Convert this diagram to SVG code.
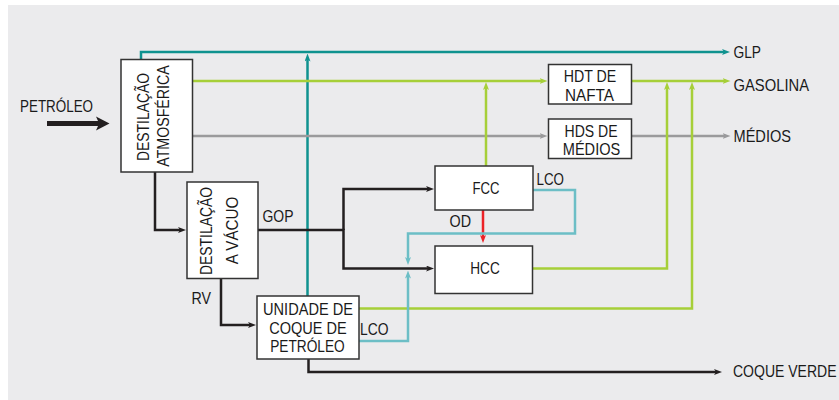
<svg xmlns="http://www.w3.org/2000/svg" width="839" height="400" viewBox="0 0 839 400">
<style>
.t{font-family:"Liberation Sans",Arial,sans-serif;font-size:16.5px;fill:#1a1a1a}
.m{text-anchor:middle}
.box{fill:#ffffff;stroke:#333333;stroke-width:1.5}
.ln{fill:none;stroke-width:2.5;stroke-linejoin:miter}
.teal{stroke:#0f928f}
.green{stroke:#a6cf39}
.gray{stroke:#9a9a9c}
.black{stroke:#231f20}
.cyan{stroke:#6cbec6}
.red{stroke:#ec2227}
</style>
<defs>
<marker id="aTeal" markerUnits="userSpaceOnUse" markerWidth="8" markerHeight="6" refX="3" refY="3" orient="auto"><path d="M0,0 L8,3 L0,6 L2,3 z" fill="#0f928f"/></marker>
<marker id="aGreen" markerUnits="userSpaceOnUse" markerWidth="8" markerHeight="6" refX="3" refY="3" orient="auto"><path d="M0,0 L8,3 L0,6 L2,3 z" fill="#a6cf39"/></marker>
<marker id="aGray" markerUnits="userSpaceOnUse" markerWidth="8" markerHeight="6" refX="3" refY="3" orient="auto"><path d="M0,0 L8,3 L0,6 L2,3 z" fill="#9a9a9c"/></marker>
<marker id="aBlack" markerUnits="userSpaceOnUse" markerWidth="8" markerHeight="6" refX="3" refY="3" orient="auto"><path d="M0,0 L8,3 L0,6 L2,3 z" fill="#231f20"/></marker>
<marker id="aCyan" markerUnits="userSpaceOnUse" markerWidth="8" markerHeight="6" refX="3" refY="3" orient="auto"><path d="M0,0 L8,3 L0,6 L2,3 z" fill="#6cbec6"/></marker>
<marker id="aRed" markerUnits="userSpaceOnUse" markerWidth="8" markerHeight="6" refX="3" refY="3" orient="auto"><path d="M0,0 L8,3 L0,6 L2,3 z" fill="#ec2227"/></marker>
</defs>
<rect x="8" y="5" width="831" height="395" fill="#ebebed"/>

<g id="connectors">
<path d="M47,121 H98 L96,116.5 L109.5,123.5 L96,130.5 L98,126 H47 Z" fill="#231f20"/>
<path class="ln teal" d="M141,59.5 V52 H725" marker-end="url(#aTeal)"/>
<path class="ln teal" d="M307.5,296 V58.5" marker-end="url(#aTeal)"/>
<path class="ln green" d="M193,81 H542.5" marker-end="url(#aGreen)"/>
<path class="ln green" d="M632,81 H725.5" marker-end="url(#aGreen)"/>
<path class="ln gray" d="M193,136 H542.5" marker-end="url(#aGray)"/>
<path class="ln gray" d="M632,136 H725.5" marker-end="url(#aGray)"/>
<path class="ln green" d="M486,166 V87" marker-end="url(#aGreen)"/>
<path class="ln green" d="M533,268.5 H667 V87" marker-end="url(#aGreen)"/>
<path class="ln green" d="M359,308.5 H692 V87" marker-end="url(#aGreen)"/>
<path class="ln black" d="M155,172 V230 H181" marker-end="url(#aBlack)"/>
<path class="ln black" d="M343.5,230 V189 H429" marker-end="url(#aBlack)"/>
<path class="ln black" d="M258,230 H343.5 V268.5 H429" marker-end="url(#aBlack)"/>
<path class="ln black" d="M221,278.5 V325 H251" marker-end="url(#aBlack)"/>
<path class="ln black" d="M308.5,359 V372 H717" marker-end="url(#aBlack)"/>
<path class="ln red" d="M483,210 V238" marker-end="url(#aRed)"/>
<path class="ln cyan" d="M533,190 H575 V233.5 H408 V260" marker-end="url(#aCyan)"/>
<path class="ln cyan" d="M359,341 H408 V275.5" marker-end="url(#aCyan)"/>
</g>

<g id="labels">
<text class="t" x="20" y="111.5" textLength="73" lengthAdjust="spacingAndGlyphs">PETRÓLEO</text>
<text class="t" x="733.5" y="57.5" textLength="27.5" lengthAdjust="spacingAndGlyphs">GLP</text>
<text class="t" x="733.5" y="91" textLength="75.5" lengthAdjust="spacingAndGlyphs">GASOLINA</text>
<text class="t" x="733.5" y="142" textLength="57.5" lengthAdjust="spacingAndGlyphs">MÉDIOS</text>
<text class="t" transform="translate(733,377) scale(0.85,1)">COQUE VERDE</text>
<text class="t" x="262.5" y="221.5" textLength="31" lengthAdjust="spacingAndGlyphs">GOP</text>
<text class="t" x="191.5" y="304" textLength="19.5" lengthAdjust="spacingAndGlyphs">RV</text>
<text class="t" x="449.5" y="226.5" textLength="21.5" lengthAdjust="spacingAndGlyphs">OD</text>
<text class="t" x="536.5" y="185" textLength="27.5" lengthAdjust="spacingAndGlyphs">LCO</text>
<text class="t" x="360" y="334.5" textLength="28.5" lengthAdjust="spacingAndGlyphs">LCO</text>
</g>

<g id="destilacao-atmosferica">
<rect class="box" x="121" y="59.5" width="71.5" height="112.5"/>
<text class="t m" transform="translate(149,117) rotate(-90)" textLength="88" lengthAdjust="spacingAndGlyphs">DESTILAÇÃO</text>
<text class="t m" transform="translate(168.5,116) rotate(-90)" textLength="101.5" lengthAdjust="spacingAndGlyphs">ATMOSFÉRICA</text>
</g>

<g id="destilacao-vacuo">
<rect class="box" x="187" y="182" width="71" height="96.5"/>
<text class="t m" transform="translate(211.5,231) rotate(-90)" textLength="88" lengthAdjust="spacingAndGlyphs">DESTILAÇÃO</text>
<text class="t m" transform="translate(238,230.5) rotate(-90)" textLength="67.5" lengthAdjust="spacingAndGlyphs">A VÁCUO</text>
</g>

<g id="unidade-coque">
<rect class="box" x="257" y="296" width="102" height="63"/>
<text class="t m" x="308" y="315" textLength="90" lengthAdjust="spacingAndGlyphs">UNIDADE DE</text>
<text class="t m" x="308" y="334" textLength="77.5" lengthAdjust="spacingAndGlyphs">COQUE DE</text>
<text class="t m" x="307.5" y="352" textLength="74.5" lengthAdjust="spacingAndGlyphs">PETRÓLEO</text>
</g>

<g id="fcc">
<rect class="box" x="435" y="166" width="98" height="44"/>
<text class="t m" x="486" y="193.5" textLength="27" lengthAdjust="spacingAndGlyphs">FCC</text>
</g>

<g id="hcc">
<rect class="box" x="435" y="246" width="97.5" height="47.5"/>
<text class="t m" x="485" y="273.5" textLength="29.5" lengthAdjust="spacingAndGlyphs">HCC</text>
</g>

<g id="hdt-nafta">
<rect class="box" x="548.5" y="64.5" width="83" height="39.5"/>
<text class="t m" x="590" y="81.5" textLength="52.5" lengthAdjust="spacingAndGlyphs">HDT DE</text>
<text class="t m" x="589.5" y="100.5" textLength="49" lengthAdjust="spacingAndGlyphs">NAFTA</text>
</g>

<g id="hds-medios">
<rect class="box" x="548.5" y="119" width="83" height="39.5"/>
<text class="t m" x="591" y="136.5" textLength="53" lengthAdjust="spacingAndGlyphs">HDS DE</text>
<text class="t m" x="591.5" y="155" textLength="57.5" lengthAdjust="spacingAndGlyphs">MÉDIOS</text>
</g>
</svg>
